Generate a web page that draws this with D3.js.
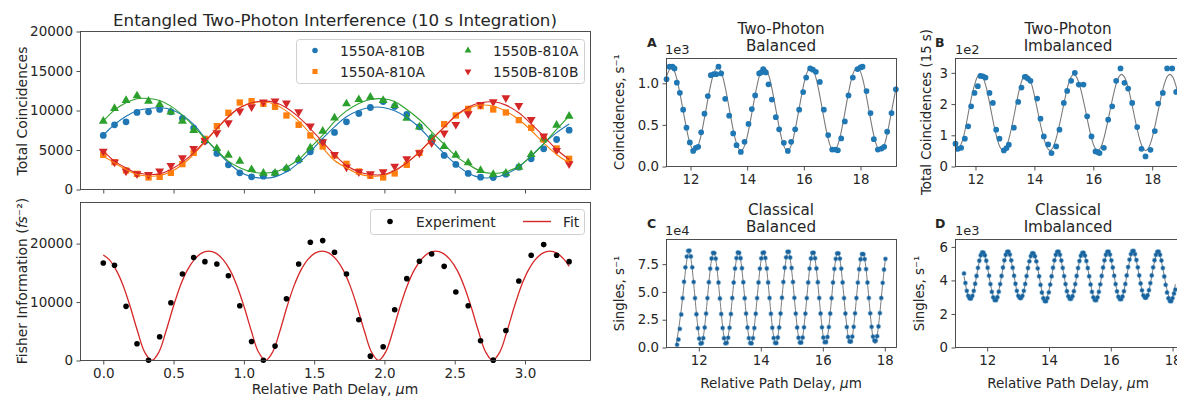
<!DOCTYPE html>
<html>
<head>
<meta charset="utf-8">
<script src="https://cdn.jsdelivr.net/npm/d3@7/dist/d3.min.js"></script>
<style>
html,body{margin:0;padding:0;background:#fff;}
svg{display:block;}
</style>
</head>
<body>
<svg id="chart" width="1177" height="396"></svg>
<script>
// ================= DATA =================
// Left panels: relative path delay (um)
const delay = [0.000,0.080,0.162,0.240,0.322,0.401,0.481,0.563,0.643,0.723,0.808,0.890,0.971,1.055,1.139,1.222,1.303,1.390,1.473,1.561,1.645,1.730,1.818,1.900,1.991,2.073,2.159,2.249,2.336,2.425,2.508,2.596,2.684,2.774,2.864,2.956,3.044,3.133,3.225,3.314];
const seriesNames = ["1550A-810B","1550A-810A","1550B-810A","1550B-810B"];
const c1550A810B = [6840,8190,8570,9750,9830,10130,9830,8990,7770,6120,4560,3120,2110,1600,1690,2030,2620,3710,4770,6040,7220,8570,9620,10380,11140,10510,9500,7930,6540,4310,3170,2030,1560,1520,1940,2830,3880,5150,6330,7510];
const c1550A810A = [4390,3460,2410,1980,1520,1600,2110,3210,4640,6410,8020,9710,11010,11180,10850,10470,9370,8190,6840,5440,4300,3250,2280,1730,1520,2030,3120,4640,6120,8270,9370,10210,10550,10130,9750,8780,7810,6330,5190,3880];
const c1550B810A = [8650,10260,11270,11860,11180,10760,9830,8650,7470,6200,5190,4350,3590,2530,2070,2070,2660,3800,5280,7390,9070,10850,11390,11690,11270,10630,9030,7930,6540,5440,4350,3380,2410,1900,2070,2830,4430,6410,8150,9280];
const c1550B810B = [4850,3460,2320,1980,1900,2320,3040,4010,5190,6200,7170,8440,9920,10470,11060,11180,10930,9830,8020,6040,4430,2830,2240,1980,2240,2950,3880,4640,5910,7130,8230,9580,10760,11100,11610,10630,8860,6750,4940,3250];
// fitted curves read at the same delays
const fit1550A810B = [6880,8230,9280,9960,10260,10340,10130,9410,8230,6540,4850,3380,2240,1600,1440,1600,2240,3380,4770,6460,7930,9200,10000,10380,10380,9960,9120,7850,6160,4560,3210,2070,1520,1520,1940,2870,4260,5800,7200,8300];
const fit1550A810A = [4220,3380,2530,1900,1690,1770,2240,3170,4430,5990,7680,9160,10340,10970,11100,10760,9920,8650,7050,5280,3670,2740,1980,1690,1770,2320,3380,4730,6330,7890,9280,10260,10680,10550,9920,8860,7470,5910,4430,3380];
const fit1550B810A = [8650,10040,10970,11480,11520,11270,10550,9410,8020,6460,4940,3590,2740,2240,2070,2240,2830,3800,5280,6880,8600,9950,10900,11400,11480,11150,10130,8860,7300,5700,4220,3170,2320,2030,2240,2950,4220,5780,7600,9280];
const fit1550B810B = [4850,3590,2740,2110,1900,1980,2530,3460,4640,6120,7720,9240,10340,10970,11180,11010,10340,9160,7720,5990,4430,3040,2240,1900,1900,2410,3380,4770,6330,7890,9370,10420,10970,11100,10680,9710,8310,6750,5060,3800];

// Fisher information
const fisherExp = [16690,16290,9260,2860,50,4060,9890,14800,17600,16910,16510,14510,9370,3260,50,2460,10570,16510,20230,20510,18510,14800,6970,740,2340,8690,14000,16970,18230,16110,11710,9370,3370,60,5140,13600,18000,19830,18000,16910];
const fisherFitX = [0,0.041,0.092,0.143,0.193,0.244,0.294,0.345,0.396,0.446,0.497,0.547,0.598,0.649,0.699,0.750,0.801,0.851,0.902,0.952,1.003,1.054,1.104,1.155,1.205,1.256,1.306,1.356,1.406,1.456,1.506,1.557,1.607,1.657,1.707,1.757,1.807,1.858,1.908,1.958,2.009,2.060,2.110,2.161,2.212,2.263,2.313,2.364,2.415,2.466,2.517,2.567,2.618,2.669,2.720,2.770,2.821,2.872,2.923,2.973,3.024,3.075,3.126,3.177,3.227,3.278,3.314];
const fisherFitY = [18060,17305,15456,12721,9111,5000,1453,0,1453,5000,9111,12721,15456,17305,18358,18700,18358,17305,15456,12721,9111,5000,1453,0,1453,5000,9111,12721,15456,17305,18358,18700,18358,17305,15456,12721,9111,5000,1453,0,1453,5000,9111,12721,15456,17305,18358,18700,18358,17305,15456,12721,9111,5000,1453,0,1453,5000,9111,12721,15456,17305,18358,18700,18358,17305,16100];

// Panel A: two-photon balanced (x1e3 s^-1)
const aX = [11.155,11.259,11.365,11.435,11.518,11.624,11.741,11.859,11.976,12.094,12.188,12.271,12.376,12.494,12.612,12.718,12.824,12.906,12.988,13.082,13.224,13.365,13.506,13.624,13.776,13.906,14.047,14.165,14.282,14.424,14.494,14.565,14.659,14.753,14.871,15.012,15.129,15.294,15.435,15.553,15.694,15.835,15.976,16.082,16.224,16.318,16.424,16.565,16.706,16.859,17.000,17.118,17.200,17.318,17.447,17.576,17.729,17.894,18.000,18.071,18.212,18.353,18.471,18.612,18.741,18.835,18.941,19.094,19.247];
const aY = [1.049,1.199,1.199,1.179,1.008,0.886,0.683,0.467,0.289,0.187,0.224,0.236,0.411,0.634,0.846,1.098,1.110,1.110,1.199,1.118,0.813,0.610,0.398,0.256,0.175,0.297,0.512,0.691,0.854,1.118,1.130,1.171,1.130,0.988,0.805,0.593,0.447,0.285,0.187,0.297,0.447,0.683,0.894,1.069,1.179,1.163,1.138,1.016,0.683,0.378,0.203,0.203,0.195,0.337,0.541,0.854,1.069,1.171,1.191,1.199,0.907,0.642,0.329,0.203,0.215,0.236,0.419,0.642,0.927];
const aFitX = [11.115,11.32,11.525,11.73,11.935,12.14,12.345,12.55,12.755,12.96,13.165,13.37,13.575,13.78,13.985,14.19,14.395,14.60,14.805,15.01,15.215,15.42,15.625,15.83,16.035,16.24,16.445,16.65,16.855,17.06,17.265,17.47,17.675,17.88,18.085,18.29,18.495,18.70,18.905,19.11,19.315];
const aFitY = [1.044,1.19,1.044,0.69,0.336,0.19,0.336,0.69,1.044,1.19,1.044,0.69,0.336,0.19,0.336,0.69,1.044,1.19,1.044,0.69,0.336,0.19,0.336,0.69,1.044,1.19,1.044,0.69,0.336,0.19,0.336,0.69,1.044,1.19,1.044,0.69,0.336,0.19,0.336,0.69,1.044];

// Panel B: two-photon imbalanced (x1e2 counts / 15 s)
const bX = [11.321,11.40,11.513,11.638,11.751,11.853,11.966,12.079,12.17,12.25,12.34,12.475,12.589,12.702,12.815,12.962,13.053,13.132,13.302,13.449,13.562,13.675,13.777,13.868,14.094,14.207,14.320,14.467,14.581,14.739,14.852,14.999,15.113,15.248,15.373,15.509,15.667,15.792,15.939,16.075,16.154,16.211,16.358,16.505,16.641,16.776,16.924,17.059,17.184,17.320,17.490,17.637,17.773,17.942,18.089,18.203,18.361,18.508,18.678,18.814];
const bY = [0.729,0.568,0.600,0.890,1.286,1.929,2.358,2.572,2.90,2.89,2.85,2.358,2.036,1.179,0.890,0.514,0.590,0.697,1.243,2.069,2.529,2.872,2.819,2.744,2.176,1.533,0.965,0.707,0.429,0.643,1.179,2.036,2.422,2.744,3.001,2.626,2.626,1.608,0.965,0.482,0.461,0.429,0.600,1.501,1.929,2.744,3.140,2.680,2.497,2.036,1.265,0.568,0.322,0.536,1.136,2.015,2.358,3.140,3.140,2.390];
const bFitX = [11.32,11.37,11.57,11.76,11.96,12.15,12.35,12.54,12.74,12.935,13.13,13.33,13.52,13.72,13.92,14.12,14.33,14.53,14.73,14.94,15.14,15.34,15.54,15.75,15.95,16.15,16.35,16.555,16.76,16.96,17.165,17.37,17.575,17.78,17.985,18.19,18.395,18.6,18.805,19.0];
const bFitY = [0.53,0.51,0.87,1.73,2.59,2.95,2.59,1.73,0.87,0.51,0.87,1.73,2.59,2.95,2.59,1.73,0.87,0.51,0.87,1.73,2.59,2.95,2.59,1.73,0.87,0.51,0.87,1.73,2.59,2.95,2.59,1.73,0.87,0.51,0.87,1.73,2.59,2.95,2.59,1.73];

// Panel C: classical balanced (x1e4 s^-1)
const cX = [11.300,11.345,11.389,11.434,11.478,11.523,11.567,11.612,11.656,11.701,11.745,11.790,11.834,11.879,11.923,11.968,12.012,12.057,
12.101,12.146,12.190,12.235,12.279,12.324,12.368,12.413,12.457,12.502,12.546,12.591,12.635,12.680,12.724,12.769,12.813,12.858,
12.902,12.947,12.991,13.036,13.080,13.125,13.169,13.214,13.258,13.303,13.347,13.392,13.436,13.481,13.525,13.570,13.614,13.659,
13.703,13.748,13.792,13.837,13.881,13.926,13.970,14.015,14.059,14.104,14.148,14.193,14.237,14.282,14.326,14.371,14.415,14.460,
14.504,14.549,14.593,14.638,14.682,14.727,14.771,14.816,14.860,14.905,14.949,14.994,15.038,15.083,15.127,15.172,15.216,15.261,
15.305,15.350,15.394,15.439,15.483,15.528,15.572,15.617,15.661,15.706,15.750,15.795,15.839,15.884,15.928,15.973,16.017,16.062,
16.106,16.151,16.195,16.240,16.284,16.329,16.373,16.418,16.462,16.507,16.551,16.596,16.640,16.685,16.729,16.774,16.818,16.863,
16.907,16.952,16.996,17.041,17.085,17.130,17.174,17.219,17.263,17.308,17.352,17.397,17.441,17.486,17.530,17.575,17.619,17.664,
17.708,17.753,17.797,17.842,17.886,17.931,17.975,18.020];
const cY = [0.25,0.72,1.68,2.98,4.45,5.92,7.22,8.18,8.70,8.72,8.20,7.22,5.90,4.45,3.00,1.75,0.80,0.35,
0.40,0.85,1.80,3.05,4.45,5.88,7.10,8.02,8.52,8.50,8.00,7.10,5.85,4.42,3.02,1.76,0.84,0.38,
0.42,0.88,1.78,3.02,4.46,5.85,7.12,8.05,8.55,8.52,8.04,7.14,5.88,4.44,3.05,1.80,0.85,0.40,
0.38,0.85,1.76,3.04,4.45,5.86,7.10,8.03,8.52,8.55,8.06,7.12,5.86,4.46,3.04,1.78,0.86,0.42,
0.40,0.90,1.80,3.06,4.48,5.90,7.18,8.12,8.62,8.62,8.10,7.16,5.90,4.47,3.05,1.80,0.88,0.44,
0.45,0.90,1.82,3.05,4.45,5.86,7.10,8.02,8.52,8.53,8.04,7.12,5.88,4.46,3.06,1.82,0.90,0.48,
0.50,0.95,1.84,3.06,4.45,5.85,7.08,7.98,8.47,8.48,8.00,7.10,5.86,4.45,3.06,1.84,0.95,0.55,
0.55,0.98,1.86,3.08,4.46,5.84,7.05,7.95,8.42,8.40,7.96,7.06,5.85,4.46,3.08,1.86,0.98,0.62,
0.60,1.02,1.90,3.10,4.46,5.82,7.02,7.98];
const cFitX = [11.277,11.477,11.678,11.878,12.079,12.279,12.479,12.679,12.880,13.080,13.280,13.480,13.681,13.881,14.081,14.281,14.482,14.682,14.882,15.082,15.283,15.483,15.683,15.883,16.084,16.284,16.484,16.684,16.885,17.085,17.285,17.485,17.686,17.886,18.020];
const cFitY = [0.35,4.45,8.55,4.45,0.35,4.45,8.55,4.45,0.35,4.45,8.55,4.45,0.35,4.45,8.55,4.45,0.35,4.45,8.55,4.45,0.35,4.45,8.55,4.45,0.35,4.45,8.55,4.45,0.35,4.45,8.55,4.45,0.35,4.45,8.0];

// Panel D: classical imbalanced (x1e3 s^-1)
const dX = [11.250,11.295,11.340,11.385,11.430,11.475,11.520,11.565,11.610,11.655,11.700,11.745,11.790,11.835,11.880,11.925,11.970,12.015,
12.060,12.105,12.150,12.195,12.240,12.285,12.330,12.375,12.420,12.465,12.510,12.555,12.600,12.645,12.690,12.735,12.780,12.825,
12.870,12.915,12.960,13.005,13.050,13.095,13.140,13.185,13.230,13.275,13.320,13.365,13.410,13.455,13.500,13.545,13.590,13.635,
13.680,13.725,13.770,13.815,13.860,13.905,13.950,13.995,14.040,14.085,14.130,14.175,14.220,14.265,14.310,14.355,14.400,14.445,
14.490,14.535,14.580,14.625,14.670,14.715,14.760,14.805,14.850,14.895,14.940,14.985,15.030,15.075,15.120,15.165,15.210,15.255,
15.300,15.345,15.390,15.435,15.480,15.525,15.570,15.615,15.660,15.705,15.750,15.795,15.840,15.885,15.930,15.975,16.020,16.065,
16.110,16.155,16.200,16.245,16.290,16.335,16.380,16.425,16.470,16.515,16.560,16.605,16.650,16.695,16.740,16.785,16.830,16.875,
16.920,16.965,17.010,17.055,17.100,17.145,17.190,17.235,17.280,17.325,17.370,17.415,17.460,17.505,17.550,17.595,17.640,17.685,
17.730,17.775,17.820,17.865,17.910,17.955,18.000,18.045,18.090];
const dY = [4.42,3.85,3.38,3.08,2.93,2.92,3.08,3.38,3.80,4.27,4.75,5.18,5.50,5.67,5.66,5.50,5.18,4.76,
4.28,3.78,3.32,2.99,2.83,2.82,3.00,3.33,3.78,4.27,4.77,5.20,5.53,5.71,5.72,5.54,5.20,4.76,
4.28,3.80,3.38,3.08,2.96,2.95,3.08,3.38,3.79,4.26,4.74,5.14,5.45,5.62,5.61,5.44,5.14,4.72,
4.25,3.74,3.28,2.94,2.77,2.76,2.95,3.29,3.75,4.25,4.76,5.20,5.53,5.71,5.72,5.53,5.19,4.75,
4.26,3.78,3.36,3.06,2.91,2.90,3.06,3.36,3.78,4.27,4.74,5.16,5.47,5.64,5.65,5.48,5.16,4.74,
4.25,3.76,3.32,2.99,2.83,2.82,2.99,3.32,3.77,4.27,4.77,5.20,5.53,5.71,5.72,5.54,5.20,4.77,
4.28,3.78,3.35,3.03,2.89,2.88,3.04,3.36,3.79,4.30,4.80,5.24,5.57,5.75,5.76,5.57,5.22,4.78,
4.30,3.82,3.41,3.11,2.98,2.98,3.12,3.42,3.84,4.30,4.78,5.21,5.53,5.71,5.72,5.53,5.19,4.74,
4.24,3.74,3.28,2.94,2.77,2.76,2.95,3.22,3.45];
const dFitX = [11.25,11.4525,11.655,11.8575,12.06,12.2625,12.465,12.6675,12.87,13.0725,13.275,13.4775,13.68,13.8825,14.085,14.2875,14.49,14.6925,14.895,15.0975,15.30,15.5025,15.705,15.9075,16.11,16.3125,16.515,16.7175,16.92,17.1225,17.325,17.5275,17.73,17.9325,18.09];
const dFitY = [4.25,2.85,4.25,5.65,4.25,2.85,4.25,5.65,4.25,2.85,4.25,5.65,4.25,2.85,4.25,5.65,4.25,2.85,4.25,5.65,4.25,2.85,4.25,5.65,4.25,2.85,4.25,5.65,4.25,2.85,4.25,5.65,4.25,2.85,3.77];

// tick values
const leftXTicks = [0.0,0.5,1.0,1.5,2.0,2.5,3.0];
const topYTicks = [0,5000,10000,15000,20000];
const fisherYTicks = [0,10000,20000];
const rightXTicks = [12,14,16,18];
const aYTicks = [0.0,0.5,1.0];
const bYTicks = [0,1,2,3];
const cYTicks = [0.0,2.5,5.0,7.5];
const dYTicks = [0,2,4,6];

// ================= DRAWING =================
const svg = d3.select("#chart");
const FONT = "'DejaVu Sans', sans-serif";
const TXT = "#262626";
const FRAME = "#3c3c3c";
const C = {blue:"#1f77b4", orange:"#ff7f0e", green:"#2ca02c", red:"#d62728"};
const defs = svg.append("defs");

function makePanel(p) {
  const x = d3.scaleLinear().domain(p.xd).range([p.x0, p.x1]);
  const y = d3.scaleLinear().domain(p.yd).range([p.y1, p.y0]);
  const g = svg.append("g");
  defs.append("clipPath").attr("id", "clip-" + p.id)
    .append("rect").attr("x", p.x0).attr("y", p.y0)
    .attr("width", p.x1 - p.x0).attr("height", p.y1 - p.y0);
  const gx = g.append("g").attr("transform", `translate(0,${p.y1})`)
    .call(d3.axisBottom(x).tickValues(p.xt).tickSize(4).tickPadding(4).tickFormat(p.xf));
  const gy = g.append("g").attr("transform", `translate(${p.x0},0)`)
    .call(d3.axisLeft(y).tickValues(p.yt).tickSize(4).tickPadding(3.5).tickFormat(p.yf));
  [gx, gy].forEach(a => {
    a.attr("font-family", FONT).attr("font-size", p.fs);
    a.select(".domain").remove();
    a.selectAll(".tick line").attr("stroke", FRAME).attr("stroke-width", 0.9);
    a.selectAll(".tick text").attr("fill", TXT);
  });
  if (p.noXLabels) gx.selectAll(".tick text").remove();
  const plot = g.append("g");
  const frame = () => g.append("rect").attr("x", p.x0).attr("y", p.y0)
    .attr("width", p.x1 - p.x0).attr("height", p.y1 - p.y0)
    .attr("fill", "none").attr("stroke", FRAME).attr("stroke-width", 0.9);
  return {x, y, plot, clip: `url(#clip-${p.id})`, frame};
}

function text(x, y, parts, o = {}) {
  const t = svg.append("text").attr("x", x).attr("y", y)
    .attr("font-family", FONT).attr("font-size", o.size || 13.9)
    .attr("fill", TXT).attr("text-anchor", o.anchor || "middle");
  if (o.rotate) t.attr("transform", `rotate(-90,${x},${y})`);
  if (o.weight) t.attr("font-weight", o.weight);
  (Array.isArray(parts) ? parts : [parts]).forEach(pt => {
    if (typeof pt === "string") t.append("tspan").text(pt);
    else { const s = t.append("tspan").text(pt.t); if (pt.italic) s.attr("font-style", "italic"); }
  });
  return t;
}

function drawLine(P, xs, ys, color, width, curve) {
  const pts = xs.map((v, i) => [v, ys[i]]);
  P.plot.append("path").datum(pts)
    .attr("clip-path", P.clip)
    .attr("d", d3.line().x(d => P.x(d[0])).y(d => P.y(d[1])).curve(curve || d3.curveCatmullRom))
    .attr("fill", "none").attr("stroke", color).attr("stroke-width", width);
}

function drawSymbols(P, xs, ys, type, size, color, rot) {
  const sym = d3.symbol().type(type).size(size);
  P.plot.append("g").selectAll("path").data(xs.map((v, i) => [v, ys[i]])).join("path")
    .attr("d", sym)
    .attr("transform", d => `translate(${P.x(d[0])},${P.y(d[1])})${rot ? " rotate(180)" : ""}`)
    .attr("fill", color);
}

// ---------- Top-left ----------
const TL = makePanel({id:"tl", x0:80.5, x1:590.5, y0:31.5, y1:189.5, xd:[-0.162,3.466], yd:[0,20000],
  xt:leftXTicks, yt:topYTicks, xf:d3.format(".1f"), yf:d3.format("d"), fs:13.5, noXLabels:true});
drawSymbols(TL, delay, c1550A810B, d3.symbolCircle, 36, C.blue);
drawSymbols(TL, delay, c1550A810A, d3.symbolSquare, 40, C.orange);
drawSymbols(TL, delay, c1550B810A, d3.symbolTriangle, 34, C.green);
drawSymbols(TL, delay, c1550B810B, d3.symbolTriangle, 34, C.red, true);
drawLine(TL, delay, fit1550A810B, C.blue, 1.1);
drawLine(TL, delay, fit1550A810A, C.orange, 1.1);
drawLine(TL, delay, fit1550B810A, C.green, 1.1);
drawLine(TL, delay, fit1550B810B, C.red, 1.1);
TL.frame();
// legend
svg.append("rect").attr("x", 296.5).attr("y", 39.5).attr("width", 288).attr("height", 44).attr("rx", 3)
  .attr("fill", "#fff").attr("fill-opacity", 0.85).attr("stroke", "#d0d0d0");
const legItems = [
  {name:seriesNames[0], type:d3.symbolCircle, size:24, color:C.blue, rot:false, lx:315, ly:50.5},
  {name:seriesNames[1], type:d3.symbolSquare, size:26, color:C.orange, rot:false, lx:315, ly:71.5},
  {name:seriesNames[2], type:d3.symbolTriangle, size:20, color:C.green, rot:false, lx:468, ly:50.5},
  {name:seriesNames[3], type:d3.symbolTriangle, size:20, color:C.red, rot:true, lx:468, ly:71.5}
];
legItems.forEach(it => {
  svg.append("path").attr("d", d3.symbol().type(it.type).size(it.size)())
    .attr("transform", `translate(${it.lx},${it.ly})${it.rot ? " rotate(180)" : ""}`).attr("fill", it.color);
  text(it.lx + 25, it.ly + 5, it.name, {anchor:"start", size:13.8});
});
text(335, 26, "Entangled Two-Photon Interference (10 s Integration)", {size:16.7});
text(27, 111, "Total Coincidences", {rotate:true, size:13.9});

// ---------- Bottom-left ----------
const BL = makePanel({id:"bl", x0:80.5, x1:590.5, y0:202.5, y1:360.5, xd:[-0.162,3.466], yd:[0,27030],
  xt:leftXTicks, yt:fisherYTicks, xf:d3.format(".1f"), yf:d3.format("d"), fs:13.5});
drawLine(BL, fisherFitX, fisherFitY, C.red, 1.3);
BL.plot.append("g").selectAll("circle").data(delay.map((v, i) => [v, fisherExp[i]])).join("circle")
  .attr("cx", d => BL.x(d[0])).attr("cy", d => BL.y(d[1])).attr("r", 2.8).attr("fill", "#000");
BL.frame();
svg.append("rect").attr("x", 370.5).attr("y", 209.5).attr("width", 214).attr("height", 25).attr("rx", 3)
  .attr("fill", "#fff").attr("fill-opacity", 0.85).attr("stroke", "#d0d0d0");
svg.append("circle").attr("cx", 390).attr("cy", 221.5).attr("r", 2.8).attr("fill", "#000");
text(416, 226.5, "Experiment", {anchor:"start", size:13.8});
svg.append("line").attr("x1", 523).attr("x2", 551).attr("y1", 221.5).attr("y2", 221.5)
  .attr("stroke", C.red).attr("stroke-width", 1.4);
text(563, 226.5, "Fit", {anchor:"start", size:13.8});
text(27, 281, ["Fisher Information (", {t:"fs", italic:true}, "⁻²)"], {rotate:true, size:13.9});
text(335, 394, ["Relative Path Delay, ", {t:"μ", italic:true}, "m"], {size:13.9});

// ---------- Panel A ----------
const PA = makePanel({id:"a", x0:666.5, x1:896.5, y0:58.5, y1:166.5, xd:[11.153,19.27], yd:[0,1.298],
  xt:rightXTicks, yt:aYTicks, xf:d3.format("d"), yf:d3.format(".1f"), fs:13.3});
drawLine(PA, aFitX, aFitY, "#7a7a7a", 1.1, d3.curveNatural);
drawSymbols(PA, aX, aY, d3.symbolCircle, 26, C.blue);
PA.frame();
text(781, 34, "Two-Photon", {size:15.2});
text(781, 50.5, "Balanced", {size:15.2});
text(647, 47, "A", {anchor:"start", size:12.5, weight:"bold"});
text(665, 53.5, "1e3", {anchor:"start", size:13});
text(624, 112, "Coincidences, s⁻¹", {rotate:true, size:13.3});

// ---------- Panel B ----------
const PB = makePanel({id:"b", x0:955.5, x1:1181.5, y0:58.5, y1:166.5, xd:[11.321,18.995], yd:[0,3.46],
  xt:rightXTicks, yt:bYTicks, xf:d3.format("d"), yf:d3.format("d"), fs:13.3});
drawLine(PB, bFitX, bFitY, "#7a7a7a", 1.1, d3.curveNatural);
drawSymbols(PB, bX, bY, d3.symbolCircle, 26, C.blue);
PB.frame();
text(1068, 34, "Two-Photon", {size:15.2});
text(1068, 50.5, "Imbalanced", {size:15.2});
text(935, 47, "B", {anchor:"start", size:12.5, weight:"bold"});
text(955, 53.5, "1e2", {anchor:"start", size:13});
text(931, 112, "Total Coincidences (15 s)", {rotate:true, size:13.3});

// ---------- Panel C ----------
const PC = makePanel({id:"c", x0:666.5, x1:896.5, y0:239.5, y1:347.5, xd:[10.958,18.377], yd:[0,9.72],
  xt:rightXTicks, yt:cYTicks, xf:d3.format("d"), yf:d3.format(".1f"), fs:13.3});
drawLine(PC, cFitX, cFitY, "#7a7a7a", 1.0, d3.curveNatural);
PC.plot.append("g").selectAll("circle").data(cX.map((v, i) => [v, cY[i]])).join("circle")
  .attr("cx", d => PC.x(d[0])).attr("cy", d => PC.y(d[1])).attr("r", 1.9)
  .attr("fill", "#1c5f98").attr("stroke", C.blue).attr("stroke-opacity", 0.4).attr("stroke-width", 1.3);
PC.frame();
text(781, 215, "Classical", {size:15.2});
text(781, 231.5, "Balanced", {size:15.2});
text(647, 228, "C", {anchor:"start", size:12.5, weight:"bold"});
text(665, 234.5, "1e4", {anchor:"start", size:13});
text(624, 293.5, "Singles, s⁻¹", {rotate:true, size:13.3});
text(781, 387.5, ["Relative Path Delay, ", {t:"μ", italic:true}, "m"], {size:13.5});

// ---------- Panel D ----------
const PD = makePanel({id:"d", x0:955.5, x1:1181.5, y0:239.5, y1:347.5, xd:[10.974,18.288], yd:[0,6.44],
  xt:rightXTicks, yt:dYTicks, xf:d3.format("d"), yf:d3.format("d"), fs:13.3});
drawLine(PD, dFitX, dFitY, "#7a7a7a", 1.0, d3.curveNatural);
PD.plot.append("g").selectAll("circle").data(dX.map((v, i) => [v, dY[i]])).join("circle")
  .attr("cx", d => PD.x(d[0])).attr("cy", d => PD.y(d[1])).attr("r", 1.9)
  .attr("fill", "#1c5f98").attr("stroke", C.blue).attr("stroke-opacity", 0.4).attr("stroke-width", 1.3);
PD.frame();
text(1068, 215, "Classical", {size:15.2});
text(1068, 231.5, "Imbalanced", {size:15.2});
text(935, 228, "D", {anchor:"start", size:12.5, weight:"bold"});
text(955, 235, "1e3", {anchor:"start", size:13});
text(924, 293.5, "Singles, s⁻¹", {rotate:true, size:13.3});
text(1068, 387.5, ["Relative Path Delay, ", {t:"μ", italic:true}, "m"], {size:13.5});
</script>
</body>
</html>
